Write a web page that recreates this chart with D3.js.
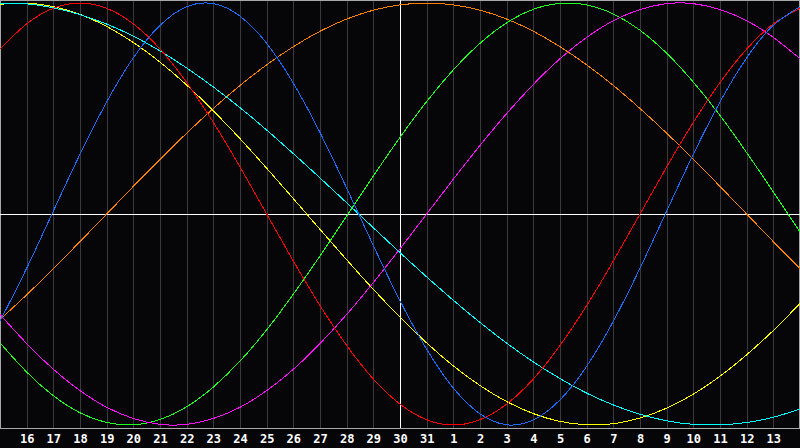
<!DOCTYPE html>
<html>
<head>
<meta charset="utf-8">
<script src="https://cdn.jsdelivr.net/npm/d3@7"></script>
<style>
html, body { margin: 0; padding: 0; background: #060609; }
svg { display: block; }
</style>
</head>
<body>
<div id="chart"></div>
<script>
// day labels under the gridlines (index 1..29), left edge is the 15th
var day_labels = [16,17,18,19,20,21,22,23,24,25,26,27,28,29,30,31,1,2,3,4,5,6,7,8,9,10,11,12,13];

// one value per day, index 0..30 (-1 .. 1)
var red = [0.782,0.901,0.975,1.000,0.975,0.901,0.782,0.623,0.434,0.223,0.000,-0.223,-0.434,-0.623,-0.782,-0.901,-0.975,-1.000,-0.975,-0.901,-0.782,-0.623,-0.434,-0.223,0.000,0.223,0.434,0.623,0.782,0.901,0.975];
var blue = [-0.508,-0.257,0.014,0.283,0.531,0.740,0.894,0.982,0.997,0.938,0.809,0.620,0.386,0.123,-0.150,-0.411,-0.641,-0.825,-0.947,-0.999,-0.976,-0.881,-0.722,-0.508,-0.257,0.014,0.283,0.531,0.740,0.894,0.982];
var orange = [-0.500,-0.383,-0.259,-0.131,0.000,0.131,0.259,0.383,0.500,0.609,0.707,0.793,0.866,0.924,0.966,0.991,1.000,0.991,0.966,0.924,0.866,0.793,0.707,0.609,0.500,0.383,0.259,0.131,0.000,-0.131,-0.259];
var green = [-0.611,-0.749,-0.861,-0.942,-0.988,-0.999,-0.974,-0.914,-0.820,-0.697,-0.549,-0.380,-0.199,-0.010,0.180,0.363,0.533,0.683,0.809,0.906,0.970,0.998,0.991,0.948,0.871,0.762,0.625,0.467,0.291,0.105,-0.086];
var magenta = [-0.476,-0.614,-0.736,-0.837,-0.916,-0.969,-0.997,-0.997,-0.969,-0.916,-0.837,-0.736,-0.614,-0.476,-0.325,-0.165,0.000,0.165,0.325,0.476,0.614,0.736,0.837,0.916,0.969,0.997,0.997,0.969,0.916,0.837,0.736];
var cyan = [1.000,0.996,0.977,0.945,0.900,0.843,0.773,0.692,0.602,0.504,0.398,0.286,0.171,0.053,-0.065,-0.183,-0.298,-0.409,-0.514,-0.612,-0.701,-0.780,-0.849,-0.905,-0.949,-0.980,-0.997,-0.999,-0.988,-0.963,-0.925];
var yellow = [0.994,0.999,0.983,0.946,0.889,0.813,0.720,0.611,0.489,0.357,0.217,0.073,-0.073,-0.217,-0.357,-0.489,-0.611,-0.720,-0.813,-0.889,-0.946,-0.983,-0.999,-0.994,-0.967,-0.920,-0.854,-0.769,-0.667,-0.552,-0.424];

var series = [
    {values: orange, color: "#ff8000"},
    {values: green, color: "#20ff20"},
    {values: magenta, color: "#ff10ff"},
    {values: yellow, color: "#ffff00"},
    {values: cyan, color: "#00ffff"},
    {values: red, color: "#ff0000"},
    {values: blue, color: "#1a6cff"}
];

var width = 800;
var height = 448;
var plot_h = 428;

var svg = d3.select("#chart")
    .append("svg")
    .attr("width",width)
    .attr("height",height);

var x = d3.scaleLinear().domain([0,30]).range([0,width]);
var y = d3.scaleLinear().domain([-1,1]).range([425,3]);

// vertical day gridlines
svg.append("g")
    .selectAll("line")
    .data(day_labels)
    .enter()
    .append("line")
    .attr("x1",function(d,i){ return Math.round(x(i+1))+0.5; })
    .attr("x2",function(d,i){ return Math.round(x(i+1))+0.5; })
    .attr("y1",0)
    .attr("y2",plot_h)
    .attr("stroke","#3a3a3a")
    .attr("shape-rendering","crispEdges");

// frame
svg.append("rect")
    .attr("x",0.5)
    .attr("y",0.5)
    .attr("width",width-1)
    .attr("height",plot_h-0.5)
    .attr("fill","none")
    .attr("stroke","#a8a8a8")
    .attr("shape-rendering","crispEdges");

// today line and zero line
svg.append("line")
    .attr("x1",x(15)+0.5).attr("x2",x(15)+0.5)
    .attr("y1",0).attr("y2",plot_h)
    .attr("stroke","#ffffff")
    .attr("shape-rendering","crispEdges");
svg.append("line")
    .attr("x1",0).attr("x2",width)
    .attr("y1",Math.round(y(0))+0.5).attr("y2",Math.round(y(0))+0.5)
    .attr("stroke","#ffffff")
    .attr("shape-rendering","crispEdges");

var line = d3.line()
    .x(function(d,i){ return x(i); })
    .y(function(d){ return y(d); })
    .curve(d3.curveNatural);

svg.append("g")
    .selectAll("path")
    .data(series)
    .enter()
    .append("path")
    .attr("d",function(d){ return line(d.values); })
    .attr("fill","none")
    .attr("stroke",function(d){ return d.color; })
    .attr("stroke-width",1)
    .attr("shape-rendering","crispEdges");

// day labels
svg.append("g")
    .selectAll("text")
    .data(day_labels)
    .enter()
    .append("text")
    .attr("x",function(d,i){ return x(i+1)+0.5; })
    .attr("y",443)
    .attr("text-anchor","middle")
    .attr("fill","#ffffff")
    .attr("font-family","DejaVu Sans Mono, monospace")
    .attr("font-weight","bold")
    .attr("font-size","12px")
    .text(function(d){ return d; });
</script>
</body>
</html>
